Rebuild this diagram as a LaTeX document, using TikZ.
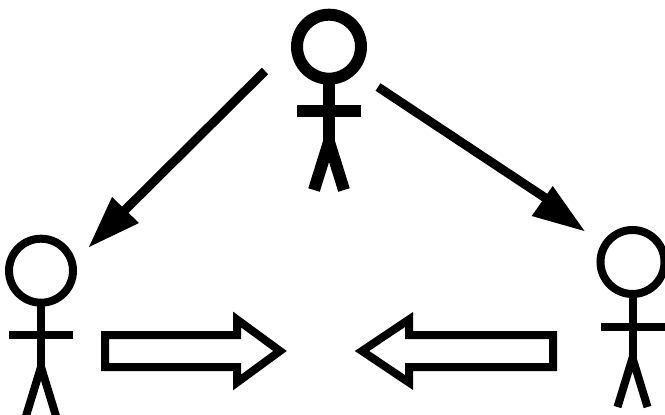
\documentclass[tikz,border=0pt]{standalone}
\tikzset{
  thick12/.style={draw=black,line width=12pt},
  thin8/.style={draw=black,line width=8pt},
  block/.style={draw=black,fill=white,line width=8pt,miter limit=10},
  shaft/.style={draw=black,line width=9pt},
  tip/.style={fill=black,draw=none}
}
\begin{document}
\begin{tikzpicture}[x=1pt,y=-1pt]
\useasboundingbox (0,0) rectangle (665,415);
\clip (0,0) rectangle (665,415);
% top figure
\coordinate (tc) at (329,46.7);
\coordinate (th) at (329,78);
\coordinate (tw) at (329,142);
\coordinate (tla) at (297,111);
\coordinate (tra) at (361,111);
\coordinate (tlf) at (314,190);
\coordinate (trf) at (344,190);
\draw[thick12] (tc) circle (32);
\draw[thick12] (th) -- (tw);
\draw[thick12] (tla) -- (tra);
\draw[thick12,line join=round] (tlf) -- (tw) -- (trf);
% left figure
\coordinate (lc) at (41,270.7);
\coordinate (lh) at (41,302);
\coordinate (lw) at (41,367);
\coordinate (lla) at (9,335);
\coordinate (lra) at (73,335);
\coordinate (llf) at (26,416);
\coordinate (lrf) at (56,416);
\draw[thin8] (lc) circle (32);
\draw[thin8] (lh) -- (lw);
\draw[thin8] (lla) -- (lra);
\draw[thin8,line join=round] (llf) -- (lw) -- (lrf);
% right figure
\coordinate (rc) at (632.5,262);
\coordinate (rh) at (632.5,294);
\coordinate (rw) at (632.5,358);
\coordinate (rla) at (601,326.7);
\coordinate (rra) at (665,326.7);
\coordinate (rlf) at (617.5,407);
\coordinate (rrf) at (647.5,407);
\draw[thin8] (rc) circle (32);
\draw[thin8] (rh) -- (rw);
\draw[thin8] (rla) -- (rra);
\draw[thin8,line join=round] (rlf) -- (rw) -- (rrf);
% connectors
\coordinate (as) at (265,71);
\coordinate (ae) at (120,215);
\coordinate (at) at (89,247);
\coordinate (ab1) at (139,223);
\coordinate (ab2) at (112,197);
\draw[shaft] (as) -- (ae);
\fill[tip] (at) -- (ab1) -- (ab2) -- cycle;
\coordinate (bs) at (378,87);
\coordinate (be) at (550,201);
\coordinate (bt) at (584.5,231);
\coordinate (bb1) at (531.7,216);
\coordinate (bb2) at (552.7,186);
\draw[shaft] (bs) -- (be);
\fill[tip] (bt) -- (bb1) -- (bb2) -- cycle;
% block arrows
\draw[block] (105,335) -- (237,335) -- (237,319.5) -- (280,351) -- (237,382.5) -- (237,367) -- (105,367) -- cycle;
\draw[block] (553,335) -- (409,335) -- (409,319.5) -- (362,351) -- (409,382.5) -- (409,367) -- (553,367) -- cycle;
\end{tikzpicture}
\end{document}
